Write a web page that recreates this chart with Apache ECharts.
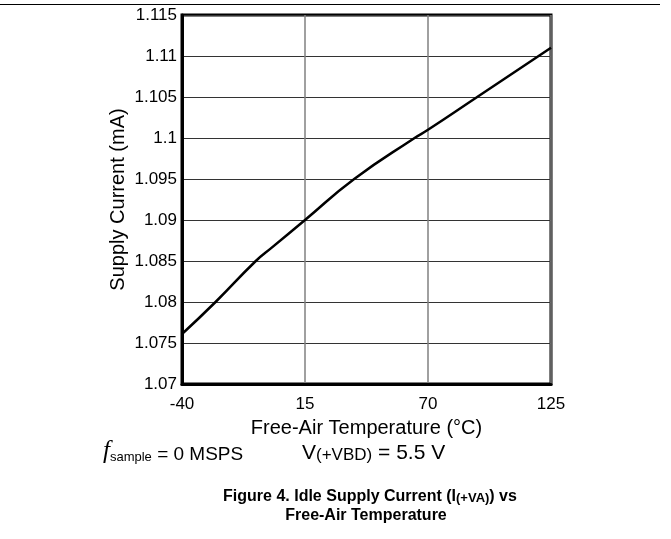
<!DOCTYPE html>
<html>
<head>
<meta charset="utf-8">
<script src="https://cdn.jsdelivr.net/npm/echarts@6/dist/echarts.min.js"></script>
<style>html,body{margin:0;padding:0;background:#fff;}#c{width:671px;height:539px;}</style>
</head>
<body>
<div id="c"></div>
<script>
// Data
var temperatures = [-40, -25, -7, 0, 15, 37, 64, 70, 92, 125];
var supplyCurrent = [1.0761, 1.0800, 1.0850, 1.0866, 1.0900, 1.0950, 1.1000, 1.1010, 1.1050, 1.1110];
var xTicks = [-40, 15, 70, 125];
var yMin = 1.07, yMax = 1.115, yStep = 0.005;

var seriesData = temperatures.map(function (t, i) { return [t, supplyCurrent[i]]; });
var FONT = 'Liberation Sans, Arial, sans-serif';

var chart = echarts.init(document.getElementById('c'), null, {renderer: 'canvas'});
chart.setOption({
  animation: false,
  backgroundColor: '#fff',
  grid: {left: 182, right: 120, top: 15, bottom: 155, show: true, borderColor: '#000', borderWidth: 3, backgroundColor: 'transparent'},
  xAxis: {
    type: 'value', min: xTicks[0], max: xTicks[xTicks.length - 1], interval: 55,
    name: 'Free-Air Temperature (°C)', nameLocation: 'middle', nameGap: 34,
    nameTextStyle: {fontFamily: FONT, fontSize: 20, color: '#000'},
    axisLine: {show: true, onZero: false, lineStyle: {color: '#000', width: 3}},
    axisTick: {show: false},
    axisLabel: {fontFamily: FONT, fontSize: 17, color: '#000', margin: 12},
    splitLine: {show: true, lineStyle: {color: '#808080', width: 1.5}}
  },
  yAxis: {
    type: 'value', min: yMin, max: yMax, interval: yStep,
    name: 'Supply Current (mA)', nameLocation: 'middle', nameGap: 54, nameMoveOverlap: false,
    nameTextStyle: {fontFamily: FONT, fontSize: 20, color: '#000'},
    axisLine: {show: true, onZero: false, lineStyle: {color: '#000', width: 3}},
    axisTick: {show: false},
    axisLabel: {fontFamily: FONT, fontSize: 17, color: '#000', margin: 5,
      formatter: function (v) { return String(parseFloat(v.toFixed(3))); }},
    splitLine: {show: true, lineStyle: {color: '#333', width: 1}}
  },
  series: [{
    type: 'line', data: seriesData, smooth: 0.5, showSymbol: false,
    lineStyle: {color: '#000', width: 2.5}
  }],
  graphic: [
    {type: 'line', shape: {x1: 0, y1: 4.5, x2: 660, y2: 4.5}, style: {stroke: '#000', lineWidth: 1.2}},
    {type: 'text', x: 103, y: 450, style: {
      text: '{f|f}{s|sample}{m| = 0 MSPS}', verticalAlign: 'middle', textAlign: 'left',
      rich: {
        f: {fontFamily: 'Liberation Serif, serif', fontStyle: 'italic', fontSize: 25, fill: '#000', lineHeight: 28, verticalAlign: 'bottom'},
        s: {fontFamily: FONT, fontSize: 13, fill: '#000', lineHeight: 14, verticalAlign: 'bottom'},
        m: {fontFamily: FONT, fontSize: 19, fill: '#000', lineHeight: 28, verticalAlign: 'bottom'}
      }}},
    {type: 'text', x: 302, y: 450, style: {
      text: '{m|V}{s|(+VBD)}{m| = 5.5 V}', verticalAlign: 'middle', textAlign: 'left',
      rich: {
        s: {fontFamily: FONT, fontSize: 17, fill: '#000', lineHeight: 15, verticalAlign: 'bottom'},
        m: {fontFamily: FONT, fontSize: 21, fill: '#000', lineHeight: 28, verticalAlign: 'bottom'}
      }}},
    {type: 'text', x: 370, y: 493, style: {
      text: '{m|Figure 4. Idle Supply Current (I}{s|(+VA)}{m|) vs}', verticalAlign: 'middle', textAlign: 'center',
      rich: {
        s: {fontFamily: FONT, fontWeight: 'bold', fontSize: 13, fill: '#000', lineHeight: 12, verticalAlign: 'bottom'},
        m: {fontFamily: FONT, fontWeight: 'bold', fontSize: 16, fill: '#000', lineHeight: 24, verticalAlign: 'bottom'}
      }}},
    {type: 'text', x: 366, y: 516, style: {
      text: 'Free-Air Temperature', verticalAlign: 'middle', textAlign: 'center',
      fontFamily: FONT, fontWeight: 'bold', fontSize: 16, fill: '#000'}}
  ]
});
</script>
</body>
</html>
